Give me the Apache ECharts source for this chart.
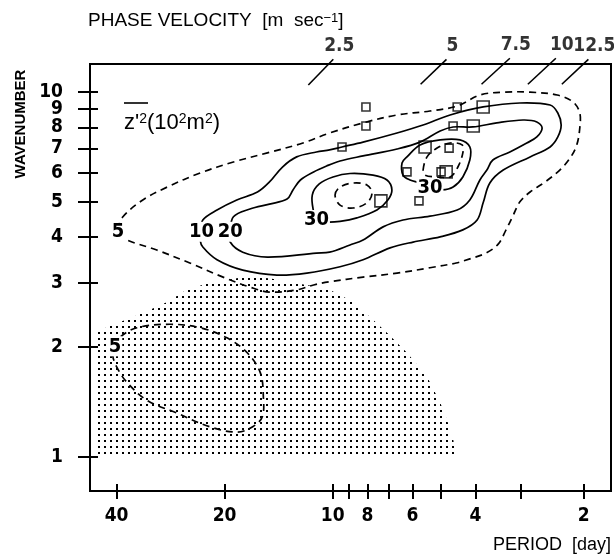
<!DOCTYPE html>
<html><head><meta charset="utf-8">
<script src="https://cdn.jsdelivr.net/npm/echarts@6/dist/echarts.min.js"></script>
<style>html,body{margin:0;padding:0;background:#fff}#c{width:614px;height:560px}</style>
</head><body><div id="c"></div>
<script>
// ---- data (period in days, wavenumber) ----
const xTicks = [40, 20, 10, 9, 8, 7, 6, 5, 4, 3, 2];
const xTickLabels = [40, 20, 10, 8, 6, 4, 2];
const yTicks = [1, 2, 3, 4, 5, 6, 7, 8, 9, 10];
const yTickLabelsA = [1, 2, 3, 4, 5, 6, 7, 8, 10];
const yTickLabelsB = [9];

const contourOuter5 = [[39.6,4.21],[38.4,4.55],[33.8,5.06],[28.9,5.49],[23.4,6.00],[18.9,6.43],[15.2,6.81],[12.1,7.25],[10.2,7.72],[8.23,8.23],[6.62,8.65],[5.36,8.87],[4.50,9.15],[3.89,9.81],[3.35,9.99],[2.82,9.99],[2.37,9.81],[2.14,9.39],[2.05,8.76],[2.05,7.97],[2.09,7.16],[2.18,6.60],[2.33,6.11],[2.56,5.67],[2.82,5.32],[3.01,5.00],[3.15,4.57],[3.29,4.19],[3.46,3.83],[3.74,3.62],[4.15,3.49],[4.53,3.40],[5.36,3.30],[6.62,3.19],[8.23,3.11],[10.2,3.02],[11.3,2.96],[12.6,2.87],[15.0,2.83],[17.0,2.92],[20.2,3.11],[25.0,3.40],[30.9,3.69],[38.4,3.98]];
const contour10 = [[23.3,4.13],[23.0,4.46],[21.0,4.75],[18.5,5.06],[16.2,5.32],[15.0,5.67],[13.8,6.23],[12.6,6.64],[11.1,6.85],[10.2,6.94],[9.42,7.07],[8.23,7.29],[6.62,7.72],[5.60,8.12],[4.71,8.65],[3.81,9.10],[3.01,9.33],[2.48,9.21],[2.36,8.76],[2.31,8.12],[2.36,7.53],[2.48,7.07],[2.82,6.64],[3.35,6.11],[3.65,5.63],[3.81,4.97],[3.96,4.46],[4.34,4.19],[5.02,4.01],[5.97,3.88],[6.92,3.74],[8.23,3.47],[9.54,3.32],[11.8,3.19],[14.3,3.15],[17.8,3.25],[21.0,3.47],[23.0,3.76],[23.4,3.93]];
const contour20 = [[19.3,4.13],[18.9,4.55],[17.0,4.78],[15.0,4.93],[13.4,5.09],[12.9,5.39],[12.3,5.74],[11.3,6.04],[10.4,6.27],[9.54,6.47],[8.23,6.68],[6.62,6.98],[5.71,7.29],[5.02,7.82],[4.62,8.02],[4.07,8.02],[3.49,8.23],[2.95,8.38],[2.70,8.28],[2.61,7.97],[2.70,7.53],[2.88,7.25],[3.21,6.85],[3.58,6.51],[3.72,6.11],[3.89,5.74],[4.15,5.06],[4.50,4.75],[5.36,4.57],[6.37,4.46],[7.24,4.27],[8.23,3.93],[8.95,3.81],[10.2,3.64],[11.1,3.62],[15.2,3.53],[17.8,3.64],[19.3,3.88]];
const contour30West = [[11.1,4.46],[11.3,4.69],[11.4,5.22],[10.9,5.60],[9.98,5.85],[8.95,5.98],[7.72,5.92],[7.06,5.74],[6.84,5.39],[7.02,5.06],[7.53,4.75],[8.56,4.52],[9.54,4.42],[10.4,4.40]];
const contour30East = [[5.36,5.45],[5.71,5.63],[6.09,5.74],[6.37,5.92],[6.41,6.39],[6.21,6.64],[5.71,7.16],[5.02,7.39],[4.42,7.39],[4.15,7.07],[4.15,6.51],[4.34,5.85],[4.62,5.49],[4.96,5.39]];
const contour40West = [[9.85,5.22],[9.54,5.49],[8.78,5.63],[8.03,5.56],[7.77,5.29],[8.03,4.97],[8.78,4.81],[9.54,4.90]];
const contour40East = [[5.60,6.11],[5.46,6.64],[5.12,7.02],[4.71,7.25],[4.36,7.16],[4.34,6.81],[4.48,6.23],[4.71,5.85],[5.12,5.85],[5.53,5.92]];
const contourLow5 = [[40.4,2.00],[39.1,2.13],[35.1,2.26],[28.4,2.31],[23.4,2.26],[19.7,2.12],[17.3,1.93],[15.9,1.70],[15.6,1.46],[15.7,1.29],[16.7,1.21],[18.5,1.17],[22.0,1.21],[27.2,1.32],[32.9,1.43],[37.4,1.60],[39.9,1.76],[41.0,1.90]];
const stippleRegion = [[45.9,1.01],[45.9,2.20],[41.0,2.30],[33.8,2.48],[28.9,2.66],[25.5,2.87],[22.0,3.00],[17.8,3.11],[15.0,3.09],[12.9,3.00],[10.4,2.90],[8.95,2.69],[7.87,2.42],[7.06,2.19],[6.21,1.93],[5.46,1.66],[5.02,1.41],[4.80,1.26],[4.61,1.11],[4.56,1.01]];

const contourLabelText = ['5', '10', '20', '30', '30', '5'];
const contourLabelAt = [[39.6,4.13],[23.2,4.14],[19.3,4.14],[11.1,4.46],[5.36,5.45],[40.4,2.01]];

const smallSquares = [[9.42,7.07],[8.08,9.10],[8.08,8.07],[4.50,9.10],[4.62,8.07],[4.74,7.02],[6.21,6.04],[4.99,6.04],[5.75,5.03]];
const largeSquares = [[3.81,9.10],[4.06,8.07],[5.53,7.07],[4.83,6.04],[7.34,5.03]];

const velocityLabels = ['2.5', '5', '7.5', '10', '12.5'];
const velocitySegments = [
  [[11.69,10.45],[9.96,12.29]],
  [[5.69,10.50],[4.82,12.29]],
  [[3.85,10.50],[3.21,12.37]],
  [[2.86,10.50],[2.39,12.37]],
  [[2.30,10.50],[1.94,12.29]]
];

// ---- chart ----
const L = Math.log10;
const FN = "'Liberation Sans Narrow','DejaVu Sans Condensed','Liberation Sans',Arial,sans-serif";
const FR = "'Liberation Sans',Arial,sans-serif";
const toXY = p => [L(p[0]), L(p[1])];

const pat = document.createElement('canvas');
pat.width = 6; pat.height = 6;
const pg = pat.getContext('2d');
pg.fillStyle = '#000';
pg.fillRect(2, 2, 2, 2);

function curve(points, dashed, z) {
  return {
    type: 'custom', silent: true, z: z || 3, clip: false,
    data: [[1, 0.5]],
    renderItem: (params, api) => ({
      type: 'polygon',
      shape: { points: points.map(p => api.coord(toXY(p))), smooth: 0.35 },
      style: { fill: 'none', stroke: '#000', lineWidth: 1.7, lineDash: dashed ? [7, 5] : [] }
    })
  };
}

const series = [];
series.push({
  type: 'custom', silent: true, z: 1, data: [[1, 0.5]],
  renderItem: (params, api) => ({
    type: 'polygon',
    shape: { points: stippleRegion.map(p => api.coord(toXY(p))) },
    style: { fill: { image: pat, repeat: 'repeat' }, stroke: null }
  })
});
series.push(curve(contourOuter5, true));
series.push(curve(contour10, false));
series.push(curve(contour20, false));
series.push(curve(contour30West, false));
series.push(curve(contour30East, false));
series.push(curve(contour40West, true));
series.push(curve(contour40East, true));
series.push(curve(contourLow5, true));

velocitySegments.forEach(seg => {
  series.push({
    type: 'line', data: seg.map(toXY), symbol: 'none', silent: true, clip: false, z: 4,
    lineStyle: { color: '#000', width: 1.6 }
  });
});
series.push({
  type: 'scatter', silent: true, clip: false, z: 6, symbolSize: 1,
  itemStyle: { color: 'rgba(0,0,0,0)' },
  data: velocitySegments.map((seg, i) => ({ name: velocityLabels[i], value: toXY(seg[1]) })),
  label: { show: true, position: 'top', distance: 3, offset: [6, 0], formatter: '{b}', color: '#000', fontSize: 19, fontFamily: FN, fontWeight: 'bold' }
});
// contour value labels (white box masks the line under them)
series.push({
  type: 'custom', silent: true, clip: false, z: 7,
  data: contourLabelAt.map((p, i) => ({ name: contourLabelText[i], value: toXY(p) })),
  renderItem: (params, api) => {
    const c = api.coord([api.value(0), api.value(1)]);
    return {
      type: 'text', x: c[0], y: c[1],
      style: { text: contourLabelText[params.dataIndex], fill: '#000', fontSize: 20, fontFamily: FN, fontWeight: 'bold',
               align: 'center', verticalAlign: 'middle', backgroundColor: '#fff', padding: [0, 1] }
    };
  }
});
series.push({
  type: 'scatter', silent: true, z: 8, symbol: 'rect', symbolSize: 8,
  data: smallSquares.map(toXY),
  itemStyle: { color: 'rgba(0,0,0,0)', borderColor: '#000', borderWidth: 1.6 }
});
series.push({
  type: 'scatter', silent: true, z: 8, symbol: 'rect', symbolSize: 12,
  data: largeSquares.map(toXY),
  itemStyle: { color: 'rgba(0,0,0,0)', borderColor: '#000', borderWidth: 1.6 }
});

const xBase = { type: 'value', min: 0.2248, max: 1.6760, inverse: true, position: 'bottom', splitLine: { show: false } };
const yBase = { type: 'value', min: -0.0932, max: 1.0767, position: 'left', splitLine: { show: false } };
const tickStyle = { color: '#000', width: 2 };
const fmt = v => String(Math.round(Math.pow(10, v)));
const yLabelStyle = { show: true, formatter: fmt, showMinLabel: true, showMaxLabel: true, hideOverlap: false,
                      color: '#000', fontSize: 19, fontFamily: FN, fontWeight: 'bold', margin: 27 };

const option = {
  animation: false,
  backgroundColor: '#fff',
  grid: { left: 90, top: 64, width: 521, height: 427, show: true, borderColor: '#000', borderWidth: 2, containLabel: false, outerBoundsMode: 'none' },
  xAxis: [
    Object.assign({}, xBase, {
      axisLine: { show: true, onZero: false, lineStyle: { color: '#000', width: 2 } },
      axisTick: { show: true, inside: false, length: 8, customValues: xTicks.map(L), lineStyle: tickStyle },
      axisLabel: { show: true, customValues: xTickLabels.map(L), formatter: fmt, showMinLabel: true, showMaxLabel: true, hideOverlap: false,
                   color: '#000', fontSize: 19, fontFamily: FN, fontWeight: 'bold', margin: 16 }
    }),
    Object.assign({}, xBase, {
      axisLine: { show: false, onZero: false },
      axisTick: { show: true, inside: true, length: 7, customValues: xTicks.map(L), lineStyle: tickStyle },
      axisLabel: { show: false }
    })
  ],
  yAxis: [
    Object.assign({}, yBase, {
      axisLine: { show: true, onZero: false, lineStyle: { color: '#000', width: 2 } },
      axisTick: { show: true, inside: false, length: 12, customValues: yTicks.map(L), lineStyle: tickStyle },
      axisLabel: Object.assign({ customValues: yTickLabelsA.map(L) }, yLabelStyle)
    }),
    Object.assign({}, yBase, {
      axisLine: { show: false, onZero: false },
      axisTick: { show: true, inside: true, length: 8, customValues: yTicks.map(L), lineStyle: tickStyle },
      axisLabel: Object.assign({ customValues: yTickLabelsB.map(L) }, yLabelStyle)
    })
  ],
  graphic: [
    { type: 'text', x: 88, y: 21, silent: true, style: {
        text: '{a|PHASE VELOCITY  [m  sec}{s|−1}{a|]}', verticalAlign: 'middle', align: 'left',
        rich: { a: { fontSize: 19, fontFamily: FR, fill: '#000' }, s: { fontSize: 13, fontFamily: FR, fill: '#000', verticalAlign: 'top' } } } },
    { type: 'text', x: 21, y: 124, rotation: Math.PI / 2, silent: true, style: {
        text: 'WAVENUMBER', align: 'center', verticalAlign: 'middle', fontSize: 15, fontFamily: FR, fontWeight: 'bold', fill: '#000' } },
    { type: 'text', x: 611, y: 545, silent: true, style: {
        text: 'PERIOD  [day]', align: 'right', verticalAlign: 'middle', fontSize: 18, fontFamily: FR, fill: '#000' } },
    { type: 'text', x: 124, y: 123, silent: true, style: {
        text: "{b|z'}{s|2}{b|(10}{s|2}{b|m}{s|2}{b|)}", verticalAlign: 'middle', align: 'left',
        rich: { b: { fontSize: 22, fontFamily: FR, fill: '#000' }, s: { fontSize: 14, fontFamily: FR, fill: '#000', verticalAlign: 'top' } } } },
    { type: 'line', silent: true, shape: { x1: 124, y1: 103, x2: 148, y2: 103 }, style: { stroke: '#000', lineWidth: 1.6 } }
  ],
  series: series
};

const chart = echarts.init(document.getElementById('c'), null, { renderer: 'canvas' });
chart.setOption(option);
</script>
</body></html>
